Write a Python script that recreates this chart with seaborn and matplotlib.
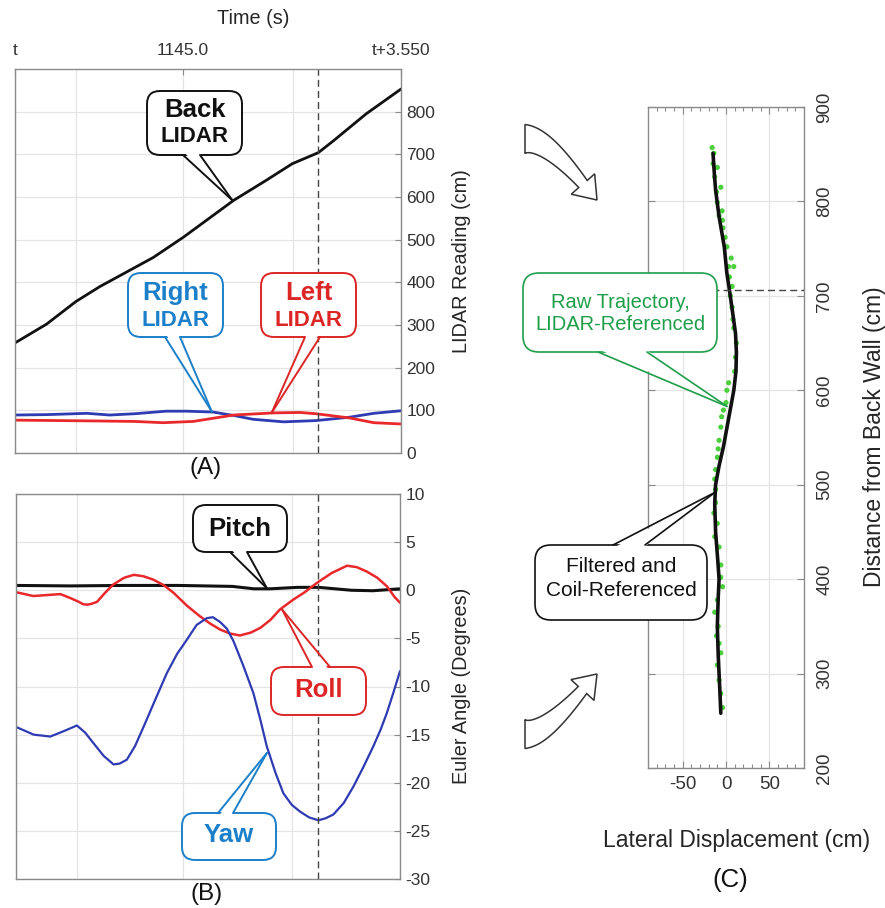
import numpy as np
import pandas as pd
import matplotlib
matplotlib.use("Agg")
import matplotlib.pyplot as plt
import seaborn as sns
from matplotlib.patches import FancyBboxPatch, Polygon
from matplotlib.lines import Line2D

# ---------------- data ----------------
# Panel A: LIDAR readings (cm) vs time (s, relative to t)
t_back = [0.0, 0.29, 0.56, 0.78, 1.27, 1.55, 2.01, 2.31, 2.55, 2.79, 2.93, 3.23, 3.55]
back_lidar = [258, 302, 355, 390, 458, 506, 592, 639, 678, 704, 732, 795, 853]
t_right = [0.0, 0.30, 0.66, 0.87, 1.10, 1.39, 1.58, 1.82, 2.01, 2.19, 2.47, 2.77, 3.08, 3.30, 3.55]
right_lidar = [89, 90, 93, 89, 92, 98, 98, 96, 88, 79, 73, 76, 84, 93, 99]
t_left = [0.0, 0.40, 0.78, 1.10, 1.36, 1.64, 2.01, 2.38, 2.62, 2.77, 3.08, 3.30, 3.55]
left_lidar = [77, 76, 75, 74, 71, 74, 89, 94, 95, 92, 82, 71, 68]

# Panel B: Euler angles (degrees)
t_pitch = [0.0, 0.5, 1.0, 1.5, 2.0, 2.2, 2.35, 2.6, 2.8, 3.1, 3.3, 3.55]
pitch = [0.5, 0.45, 0.5, 0.5, 0.4, 0.15, 0.15, 0.3, 0.3, 0.0, -0.05, 0.15]
t_roll = [0.0, 0.16, 0.41, 0.50, 0.58, 0.62, 0.66, 0.70, 0.75, 0.82, 0.90, 1.00, 1.09, 1.18,
          1.27, 1.37, 1.46, 1.58, 1.70, 1.80, 1.89, 1.98, 2.07, 2.17, 2.26, 2.35, 2.44, 2.50,
          2.56, 2.67, 2.78, 2.92, 3.06, 3.15, 3.24, 3.34, 3.43, 3.50, 3.55]
roll = [-0.2, -0.6, -0.4, -0.8, -1.2, -1.45, -1.5, -1.4, -1.2, -0.3, 0.6, 1.3, 1.6, 1.45,
        1.1, 0.5, -0.3, -1.6, -2.7, -3.5, -4.1, -4.5, -4.7, -4.4, -3.9, -3.1, -2.0, -1.5,
        -1.0, -0.2, 0.75, 1.8, 2.55, 2.4, 1.96, 1.3, 0.4, -0.7, -1.3]
t_yaw = [0.0, 0.163, 0.317, 0.45, 0.563, 0.64, 0.717, 0.81, 0.902, 0.96, 1.025, 1.10, 1.179,
         1.29, 1.395, 1.49, 1.579, 1.67, 1.764, 1.82, 1.887, 1.95, 2.011, 2.10, 2.195, 2.26,
         2.318, 2.40, 2.472, 2.55, 2.626, 2.71, 2.796, 2.86, 2.934, 3.03, 3.119, 3.21, 3.304,
         3.37, 3.427, 3.49, 3.55]
yaw = [-14.2, -15.0, -15.2, -14.6, -14.05, -14.8, -15.9, -17.2, -18.1, -18.0, -17.6, -16.2, -14.2,
       -11.3, -8.6, -6.6, -5.15, -3.6, -2.9, -2.8, -3.3, -4.0, -5.3, -7.8, -10.7, -13.5,
       -16.2, -19.0, -21.1, -22.3, -23.0, -23.6, -23.9, -23.7, -23.3, -22.1, -20.4, -18.4, -16.2,
       -14.5, -12.8, -10.6, -8.4]

time_ticks = [0.0, 1.545, 3.55]
time_labels = ["t", "1145.0", "t+3.550"]
time_grid_minor = [0.56, 2.556]
dash_t = 2.79

# Panel C: trajectory
dist_filt = [258, 280, 300, 320, 350, 380, 400, 420, 450, 480, 500, 520, 540, 560, 580,
             600, 620, 640, 660, 680, 706, 724, 752, 784, 812, 830, 851]
lat_filt = [-6, -7, -8, -9, -10, -9, -8, -9.5, -12, -13, -12, -8, -3, 1, 5,
            9, 11.5, 12, 11, 8, 4, 1, -2, -8, -12, -13.5, -15]
dist_raw = [857, 851, 840, 836, 826, 815, 810, 799, 790, 785, 780, 772, 762, 752, 740,
            731, 731, 720, 710, 700, 688, 675, 666, 650, 635, 620, 608, 600, 587, 579,
            572, 561, 547, 538, 529, 516, 506, 495, 481, 470, 459, 445, 434, 415, 402,
            392, 378, 365, 350, 340, 332, 322, 309, 293, 279, 264]
lat_raw = [-16, -14, -15, -10, -13, -6, -11, -10, -4.5, -8, -4, -3.5, -1, 1, 6,
           9, 3, 4, 7, 5, 7, 8, 9, 12, 11, 10, 3, 1, 0, -3,
           -5, -6, -8, -9, -10, -12, -13, -12, -12, -14, -10, -13, -8, -6, -6,
           -4, -10, -13, -9, -11, -8, -6, -10, -8, -6, -4]
dash_dist = 706
dash_lat_start = -16

# ---------------- style ----------------
sns.set_theme(style="white")
plt.rcParams['font.family'] = ['Liberation Sans', 'DejaVu Sans']
plt.rcParams['axes.unicode_minus'] = False

W, H = 885, 908
fig = plt.figure(figsize=(W / 100, H / 100), dpi=100)

def frac(l, t, r, b):
    return [l / W, 1 - b / H, (r - l) / W, (b - t) / H]

axA = fig.add_axes(frac(15, 69, 401, 453))
axB = fig.add_axes(frac(16, 494, 400, 879))
axC = fig.add_axes(frac(648, 107, 804, 768))

SPINE = '#8a8a8a'
TICKC = '#333333'
GRIDC = '#e4e4e4'
LABC = '#262626'
BLACK = '#111111'
BLUE_L = '#2f3bb3'
RED_L = '#e8282b'
BLUE_T = '#1b80c9'
RED_T = '#dc2626'
GREEN_T = '#1f9e4a'
GREEN_D = '#4ccf3c'

def style(ax, lsize):
    for s in ax.spines.values():
        s.set_color(SPINE)
        s.set_linewidth(1.0)
    ax.tick_params(which='both', direction='in', color=SPINE, labelcolor=TICKC,
                   labelsize=lsize, width=0.8)
    ax.tick_params(which='major', length=4)
    ax.grid(True, which='both', color=GRIDC, linewidth=0.9)
    ax.set_axisbelow(True)
    ax.set_xlabel('')
    ax.set_ylabel('')

# Panel A
sns.lineplot(x=t_back, y=back_lidar, ax=axA, color=BLACK, lw=2.0, sort=False, estimator=None)
sns.lineplot(x=t_right, y=right_lidar, ax=axA, color=BLUE_L, lw=2.0, sort=False, estimator=None)
sns.lineplot(x=t_left, y=left_lidar, ax=axA, color=RED_L, lw=2.0, sort=False, estimator=None)
axA.set_xlim(0, 3.55)
axA.set_ylim(0, 900)
style(axA, 12.5)
axA.xaxis.tick_top()
axA.set_xticks(time_ticks, time_labels)
axA.set_xticks(time_grid_minor, minor=True)
axA.tick_params(which='minor', length=0)
axA.tick_params(axis='x', pad=8)
axA.yaxis.tick_right()
axA.set_yticks(range(0, 900, 100))
axA.tick_params(axis='y', pad=4)
axA.axvline(dash_t, color='#444444', ls=(0, (5, 3)), lw=1.0)

# Panel B
sns.lineplot(x=t_pitch, y=pitch, ax=axB, color=BLACK, lw=2.2, sort=False, estimator=None)
sns.lineplot(x=t_roll, y=roll, ax=axB, color=RED_L, lw=1.8, sort=False, estimator=None)
sns.lineplot(x=t_yaw, y=yaw, ax=axB, color=BLUE_L, lw=1.6, sort=False, estimator=None)
axB.set_xlim(0, 3.55)
axB.set_ylim(-30, 10)
style(axB, 12.5)
axB.set_xticks(time_ticks, ['', '', ''])
axB.set_xticks(time_grid_minor, minor=True)
axB.tick_params(axis='x', which='both', length=0)
axB.yaxis.tick_right()
axB.set_yticks(range(-30, 11, 5))
axB.tick_params(axis='y', pad=4)
axB.axvline(dash_t, color='#444444', ls=(0, (5, 3)), lw=1.0)

# Panel C
sns.scatterplot(x=lat_raw, y=dist_raw, ax=axC, color=GREEN_D, s=14, edgecolor='none', zorder=3)
sns.lineplot(x=lat_filt, y=dist_filt, ax=axC, color=BLACK, lw=2.6, sort=False, estimator=None, zorder=4)
axC.set_xlim(-90, 90)
axC.set_ylim(200, 900)
style(axC, 13.5)
axC.set_xticks([-50, 0, 50])
axC.set_xticks(np.arange(-80, 90, 10), minor=True)
axC.tick_params(axis='x', which='minor', length=3, top=True, bottom=True)
axC.tick_params(axis='x', which='major', length=5, top=True, bottom=True, pad=6)
axC.grid(False, which='minor')
axC.yaxis.tick_right()
axC.set_yticks(range(200, 901, 100))
axC.tick_params(axis='y', left=True, right=True, length=5, labelrotation=90, pad=9)
for lab in axC.get_yticklabels():
    lab.set_va('center')
axC.hlines(dash_dist, dash_lat_start, 90, colors='#444444', linestyles=(0, (5, 3)), lw=1.0, zorder=5)

# axis labels / panel letters
fig.text(253 / W, 1 - 18 / H, 'Time (s)', ha='center', va='center', fontsize=14.3, color=LABC)
fig.text(461 / W, 1 - 261 / H, 'LIDAR Reading (cm)', ha='center', va='center', rotation=90,
         fontsize=14.3, color=LABC)
fig.text(461 / W, 1 - 686 / H, 'Euler Angle (Degrees)', ha='center', va='center', rotation=90,
         fontsize=14.3, color=LABC)
fig.text(206 / W, 1 - 468 / H, '(A)', ha='center', va='center', fontsize=17.5, color=BLACK)
fig.text(207 / W, 1 - 894 / H, '(B)', ha='center', va='center', fontsize=17.5, color=BLACK)
fig.text(737 / W, 1 - 840 / H, 'Lateral Displacement (cm)', ha='center', va='center',
         fontsize=16.5, color=LABC)
fig.text(874 / W, 1 - 437 / H, 'Distance from Back Wall (cm)', ha='center', va='center',
         rotation=90, fontsize=16.5, color=LABC)
fig.text(730 / W, 1 - 880 / H, '(C)', ha='center', va='center', fontsize=18.5, color=BLACK)

# ---------------- overlay: callouts and arrows ----------------
ov = fig.add_axes([0, 0, 1, 1], zorder=20)
ov.set_xlim(0, W)
ov.set_ylim(H, 0)
ov.axis('off')
ov.patch.set_alpha(0)

def px(ax, x, y):
    X, Y = ax.transData.transform((x, y))
    return X, H - Y

def callout(box, base, tip, color, lines, rr=13, lw=1.4):
    l, t, r, b = box
    ov.add_patch(FancyBboxPatch((l + rr, t + rr), (r - l) - 2 * rr, (b - t) - 2 * rr,
                                boxstyle=f"round,pad={rr}", fc='white', ec=color, lw=lw, zorder=1))
    bx1, bx2, side = base
    by = b if side == 'bottom' else t
    inside = -2.5 if side == 'bottom' else 2.5
    ov.add_patch(Polygon([(bx1 + 1.2, by + inside), tip, (bx2 - 1.2, by + inside)], closed=True,
                         fc='white', ec='none', zorder=2))
    ov.add_line(Line2D([bx1, tip[0]], [by, tip[1]], color=color, lw=lw, zorder=3))
    ov.add_line(Line2D([bx2, tip[0]], [by, tip[1]], color=color, lw=lw, zorder=3))
    for (txt, y, size, weight) in lines:
        ov.text((l + r) / 2, y, txt, ha='center', va='center', fontsize=size,
                fontweight=weight, color=color, zorder=4)

callout((147, 91, 242, 155), (183, 200, 'bottom'), px(axA, 2.0, 592), BLACK,
        [('Back', 110, 18.5, 'bold'), ('LIDAR', 137, 16, 'bold')])
callout((128, 273, 223, 337), (165, 180, 'bottom'), px(axA, 1.81, 97), BLUE_T,
        [('Right', 293, 18.5, 'bold'), ('LIDAR', 321, 16, 'bold')])
callout((261, 273, 356, 337), (305, 320, 'bottom'), px(axA, 2.36, 94), RED_T,
        [('Left', 293, 18.5, 'bold'), ('LIDAR', 321, 16, 'bold')])
callout((193, 505, 287, 552), (230, 247, 'bottom'), px(axB, 2.32, 0.2), BLACK,
        [('Pitch', 529, 18.5, 'bold')])
callout((271, 667, 366, 715), (312, 330, 'top'), px(axB, 2.46, -2.0), RED_T,
        [('Roll', 690, 18.5, 'bold')])
callout((182, 813, 276, 860), (218, 233, 'top'), px(axB, 2.32, -16.9), BLUE_T,
        [('Yaw', 835, 18.5, 'bold')])
callout((523, 273, 717, 352), (598, 647, 'bottom'), px(axC, 1, 583), GREEN_T,
        [('Raw Trajectory,', 302, 14.5, 'normal'), ('LIDAR-Referenced', 325, 14.5, 'normal')],
        rr=16, lw=1.2)
callout((535, 545, 707, 620), (613, 645, 'top'), px(axC, -12.5, 492), BLACK,
        [('Filtered and', 567, 15, 'normal'), ('Coil-Referenced', 591, 15, 'normal')],
        rr=16, lw=1.2)

def curved_arrow(p0, p1, base, tip, w0, w1, hw):
    ts = np.linspace(0, 1, 50)[:, None]
    P0, P1, P2, T = (np.array(v, float) for v in (p0, p1, base, tip))
    pts = (1 - ts) ** 2 * P0 + 2 * (1 - ts) * ts * P1 + ts ** 2 * P2
    d = 2 * (1 - ts) * (P1 - P0) + 2 * ts * (P2 - P1)
    n = np.column_stack([-d[:, 1], d[:, 0]])
    n /= np.linalg.norm(n, axis=1)[:, None]
    w = (w0 + (w1 - w0) * ts) / 2
    left = pts + n * w
    right = pts - n * w
    dv = T - P2
    dv /= np.linalg.norm(dv)
    nh = np.array([-dv[1], dv[0]])
    poly = list(left) + [P2 + nh * hw / 2, T, P2 - nh * hw / 2] + list(right[::-1])
    ov.add_patch(Polygon(poly, closed=True, fc='white', ec='#333333', lw=1.1, zorder=5,
                         joinstyle='miter'))

curved_arrow((525, 139), (546, 139), (583, 184), (597, 200), 29, 11, 31)
curved_arrow((525, 734), (545, 734), (582.5, 690), (597, 674), 29, 11, 31)

fig.savefig('out.png', dpi=100)
